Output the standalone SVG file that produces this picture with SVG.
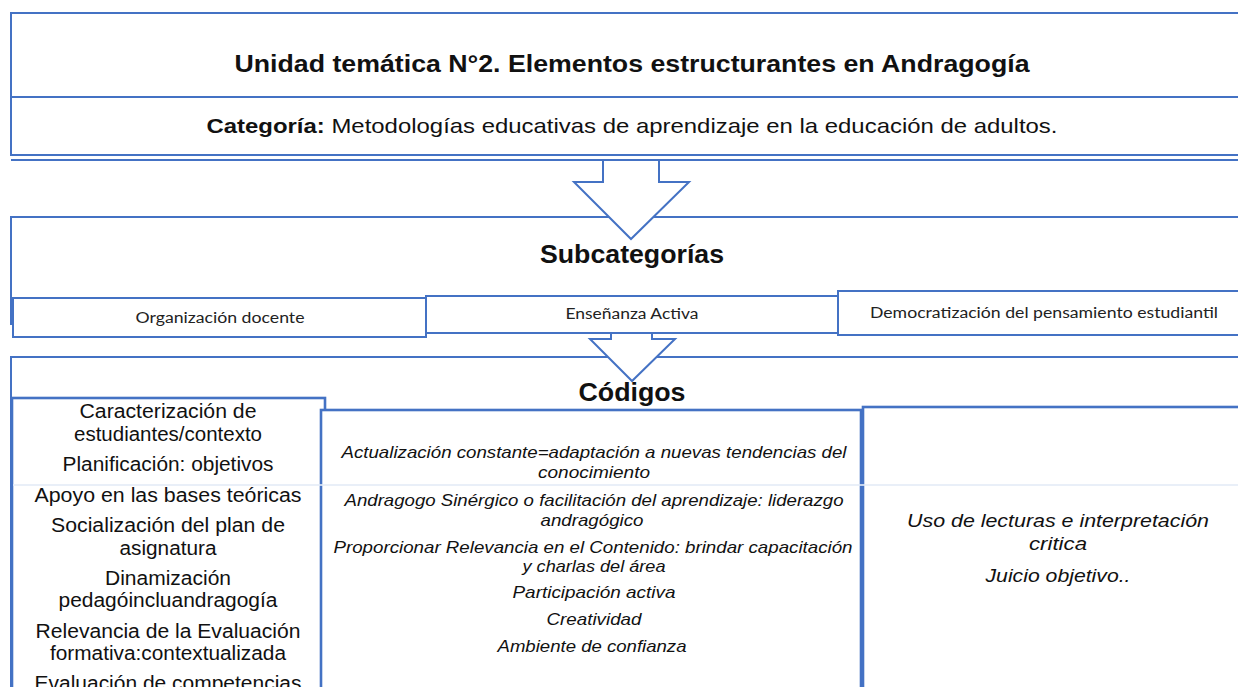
<svg xmlns="http://www.w3.org/2000/svg" width="1238" height="687" viewBox="0 0 1238 687">
<style>
.b{fill:none;stroke:#4472c4;stroke-width:2}
.bw{fill:#fff;stroke:#4472c4;stroke-width:2}
.bt{fill:#fff;stroke:#4472c4;stroke-width:2.6}
.lt{fill:none;stroke:#e4ebf6;stroke-width:2}
.t{font-family:"Liberation Sans",Arial,sans-serif;fill:#111;text-anchor:middle}
.h{font-weight:bold}
.c{font-family:Lato,"Noto Sans",sans-serif;fill:#222;text-anchor:middle;font-size:15.5px}
.i{font-style:italic}
</style>
<rect width="1238" height="687" fill="#fff"/>
<g id="unidad">
<rect class="bw" x="11" y="13" width="1240" height="142"/>
<line class="b" x1="11" y1="97" x2="1240" y2="97"/>
<text class="t h" x="632" y="72" font-size="23" textLength="795" lengthAdjust="spacingAndGlyphs">Unidad temática N°2. Elementos estructurantes en Andragogía</text>
<text class="t" x="632" y="133" font-size="21" textLength="851" lengthAdjust="spacingAndGlyphs"><tspan class="h">Categoría:</tspan> Metodologías educativas de aprendizaje en la educación de adultos.</text>
</g>
<g id="subcategorias">
<path class="b" d="M11,325 V217 H1240"/>
<line class="lt" x1="13" y1="324" x2="1238" y2="324"/>
<text class="t h" x="632" y="263" font-size="25" textLength="184" lengthAdjust="spacingAndGlyphs">Subcategorías</text>
</g>
<g id="codigos">
<path class="bw" d="M11,700 V357 H1240 V700"/>
</g>
<g id="connectors">
<line class="b" x1="11" y1="160" x2="1240" y2="160"/>
<path class="bw" d="M603,161 V182 H574 L631,239 L689,182 H659 V161"/>
</g>
<g id="organizacion">
<rect class="bw" x="13" y="298" width="413" height="39"/>
<text class="c" x="220" y="323" textLength="169" lengthAdjust="spacingAndGlyphs">Organización docente</text>
</g>
<g id="ensenanza">
<rect class="bw" x="426" y="296" width="412" height="37"/>
<text class="c" x="632" y="319" textLength="133" lengthAdjust="spacingAndGlyphs">Enseñanza Activa</text>
</g>
<g id="democratizacion">
<rect class="bw" x="838" y="291" width="404" height="44"/>
<text class="c" x="1044" y="318" textLength="348" lengthAdjust="spacingAndGlyphs">Democratización del pensamiento estudiantil</text>
</g>
<g id="connectors2">
<path class="bw" d="M611,334 V339 H590 L632,381 L675,339 H652 V334"/>
</g>
<text class="t h" x="632" y="401" font-size="25" textLength="107" lengthAdjust="spacingAndGlyphs">Códigos</text>
<g id="col1">
<rect class="bt" x="12" y="398" width="313" height="300"/>
<g class="t" font-size="19.5">
<text x="168" y="418" textLength="177" lengthAdjust="spacingAndGlyphs">Caracterización de</text>
<text x="168" y="441" textLength="188" lengthAdjust="spacingAndGlyphs">estudiantes/contexto</text>
<text x="168" y="471" textLength="211" lengthAdjust="spacingAndGlyphs">Planificación: objetivos</text>
<text x="168" y="502" textLength="267" lengthAdjust="spacingAndGlyphs">Apoyo en las bases teóricas</text>
<text x="168" y="532" textLength="234" lengthAdjust="spacingAndGlyphs">Socialización del plan de</text>
<text x="168" y="555" textLength="97" lengthAdjust="spacingAndGlyphs">asignatura</text>
<text x="168" y="585" textLength="126" lengthAdjust="spacingAndGlyphs">Dinamización</text>
<text x="168" y="607" textLength="219" lengthAdjust="spacingAndGlyphs">pedagóincluandragogía</text>
<text x="168" y="638" textLength="265" lengthAdjust="spacingAndGlyphs">Relevancia  de la Evaluación</text>
<text x="168" y="660" textLength="236" lengthAdjust="spacingAndGlyphs">formativa:contextualizada</text>
<text x="168" y="690" textLength="267" lengthAdjust="spacingAndGlyphs">Evaluación  de competencias</text>
</g>
</g>
<g id="col2">
<rect class="bt" x="321" y="410" width="540" height="300"/>
<g class="t i" font-size="17">
<text x="594" y="458" textLength="505" lengthAdjust="spacingAndGlyphs">Actualización constante=adaptación a nuevas tendencias del</text>
<text x="594" y="478" textLength="112" lengthAdjust="spacingAndGlyphs">conocimiento</text>
<text x="594" y="506" textLength="499" lengthAdjust="spacingAndGlyphs">Andragogo Sinérgico o facilitación del aprendizaje:  liderazgo</text>
<text x="592" y="526" textLength="103" lengthAdjust="spacingAndGlyphs">andragógico</text>
<text x="593" y="553" textLength="519" lengthAdjust="spacingAndGlyphs">Proporcionar Relevancia en el Contenido: brindar capacitación</text>
<text x="594" y="572" textLength="143" lengthAdjust="spacingAndGlyphs">y charlas del área</text>
<text x="594" y="598" textLength="163" lengthAdjust="spacingAndGlyphs">Participación activa</text>
<text x="594" y="625" textLength="95" lengthAdjust="spacingAndGlyphs">Creatividad</text>
<text x="592" y="652" textLength="189" lengthAdjust="spacingAndGlyphs">Ambiente de confianza</text>
</g>
</g>
<g id="col3">
<rect class="bt" x="863" y="407" width="390" height="300"/>
<g class="t i" font-size="19">
<text x="1058" y="527" textLength="302" lengthAdjust="spacingAndGlyphs">Uso de lecturas e interpretación</text>
<text x="1058" y="550" textLength="58" lengthAdjust="spacingAndGlyphs">critica</text>
<text x="1058" y="582" textLength="145" lengthAdjust="spacingAndGlyphs">Juicio objetivo..</text>
</g>
</g>
<line class="lt" x1="13" y1="485" x2="1238" y2="485" stroke-opacity="0.8"/>
</svg>
